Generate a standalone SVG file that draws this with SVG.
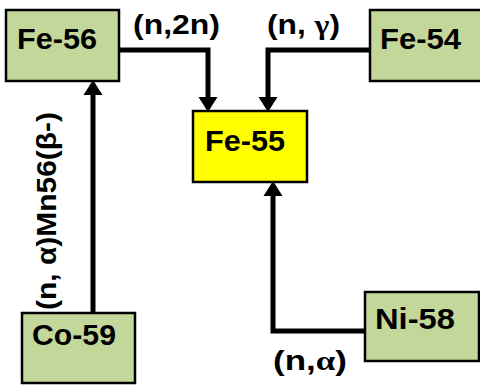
<svg xmlns="http://www.w3.org/2000/svg" width="480" height="385" viewBox="0 0 480 385">
<defs>
<style>
.node{fill:#c4d79b;stroke:#000;stroke-width:2.5}
.hot{fill:#ffff00;stroke:#000;stroke-width:2.5}
.nt{font-family:"Liberation Sans",Arial,sans-serif;font-weight:bold;font-size:29px;fill:#000}
.lb{font-family:"Liberation Sans",Arial,sans-serif;font-weight:bold;font-size:28px;fill:#000}
.gr{font-family:"Liberation Serif","Times New Roman",serif;font-weight:bold}
.cn{fill:none;stroke:#000;stroke-width:5}
</style>
<marker id="ah" markerUnits="userSpaceOnUse" markerWidth="15" markerHeight="19" refX="0" refY="9.5" orient="auto" overflow="visible">
<path d="M0,0 L15,9.5 L0,19 z" fill="#000"/>
</marker>
</defs>
<g id="connectors">
<path class="cn" d="M119,50 H208 V97" marker-end="url(#ah)"/>
<path class="cn" d="M370,50 H268 V97" marker-end="url(#ah)"/>
<path class="cn" d="M365,331 H273 V196" marker-end="url(#ah)"/>
<path class="cn" d="M93,313 V95" marker-end="url(#ah)"/>
<text class="lb" x="133" y="34" textLength="87" lengthAdjust="spacingAndGlyphs">(n,2n)</text>
<text class="lb" x="267" y="34" textLength="73" lengthAdjust="spacingAndGlyphs">(n, <tspan class="gr">γ</tspan>)</text>
<text class="lb" x="273" y="370" textLength="74" lengthAdjust="spacingAndGlyphs">(n,<tspan class="gr">α</tspan>)</text>
<text class="lb" transform="translate(56,310) rotate(-90)" textLength="198" lengthAdjust="spacingAndGlyphs">(n, α)Mn56(β-)</text>
</g>
<g id="fe56">
<rect class="node" x="6" y="10" width="113" height="71"/>
<text class="nt" x="17" y="49" textLength="80" lengthAdjust="spacingAndGlyphs">Fe-56</text>
</g>
<g id="fe54">
<rect class="node" x="370" y="10" width="115" height="71"/>
<text class="nt" x="380" y="49" textLength="81" lengthAdjust="spacingAndGlyphs">Fe-54</text>
</g>
<g id="fe55">
<rect class="hot" x="193" y="111" width="114" height="71"/>
<text class="nt" x="205" y="151" textLength="80" lengthAdjust="spacingAndGlyphs">Fe-55</text>
</g>
<g id="ni58">
<rect class="node" x="365" y="292" width="114" height="69"/>
<text class="nt" x="375" y="329" textLength="80" lengthAdjust="spacingAndGlyphs">Ni-58</text>
</g>
<g id="co59">
<rect class="node" x="22" y="313" width="113" height="70"/>
<text class="nt" x="32" y="345" textLength="84" lengthAdjust="spacingAndGlyphs">Co-59</text>
</g>
</svg>
